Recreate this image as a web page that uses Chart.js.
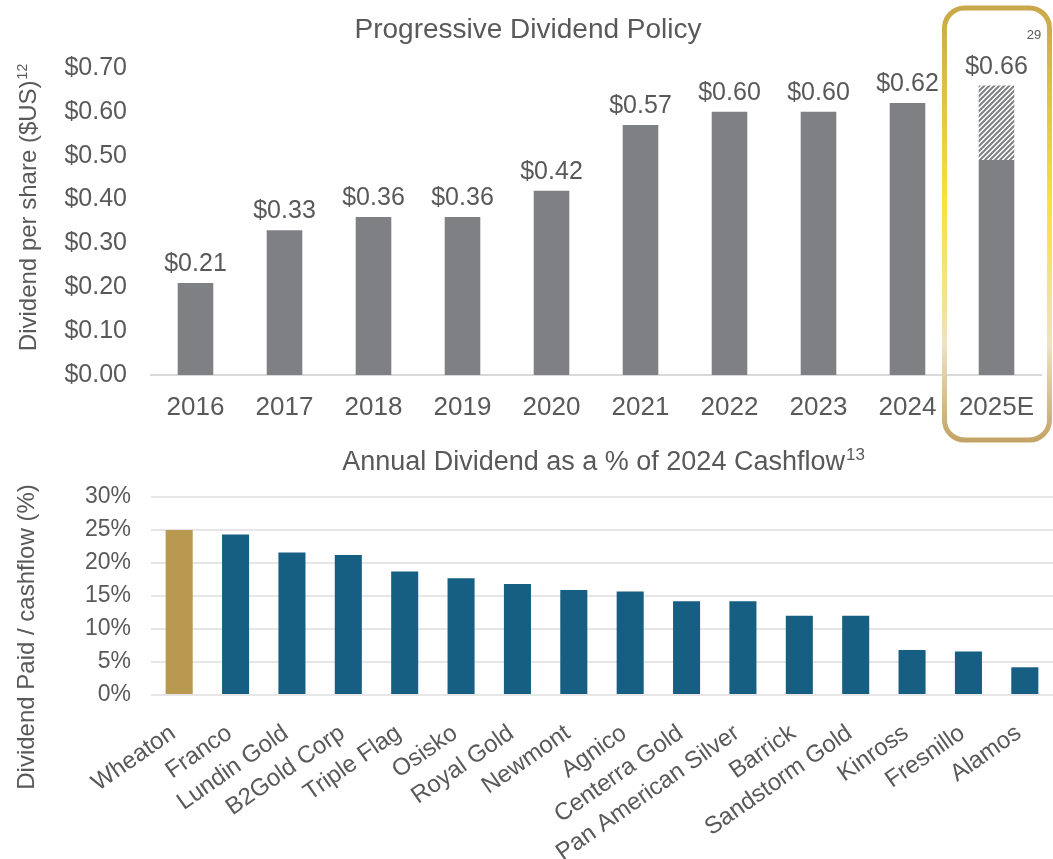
<!DOCTYPE html>
<html>
<head>
<meta charset="utf-8">
<script src="https://cdn.jsdelivr.net/npm/chart.js@4.4.1/dist/chart.umd.min.js"></script>
<style>
  body { margin: 0; background: #fff; width: 1053px; height: 859px; overflow: hidden; position: relative; }
  #top { position: absolute; left: 0; top: 0; width: 1053px; height: 450px; }
  #bottom { position: absolute; left: 0; top: 430px; width: 1053px; height: 429px; }
</style>
</head>
<body>
<div id="top"><canvas id="c1"></canvas></div>
<div id="bottom"><canvas id="c2"></canvas></div>
<script>
// top chart data
const years = ['2016', '2017', '2018', '2019', '2020', '2021', '2022', '2023', '2024', '2025E'];
const dividendPaid = [0.21, 0.33, 0.36, 0.36, 0.42, 0.57, 0.60, 0.60, 0.62, 0.49];
const dividendEstimate = [null, null, null, null, null, null, null, null, null, 0.17];

// bottom chart data
const companies = ['Wheaton', 'Franco', 'Lundin Gold', 'B2Gold Corp', 'Triple Flag', 'Osisko', 'Royal Gold',
  'Newmont', 'Agnico', 'Centerra Gold', 'Pan American Silver', 'Barrick', 'Sandstorm Gold', 'Kinross',
  'Fresnillo', 'Alamos'];
const payoutPct = [25.0, 24.3, 21.6, 21.2, 18.7, 17.7, 16.8, 15.9, 15.7, 14.2, 14.2, 12.0, 12.0, 6.8, 6.6, 4.2];

const FONT = '"Liberation Sans", Arial, sans-serif';
const TXT = '#595959';
const GREY = '#7f8083';
const BLUE = '#165f82';
const GOLD = '#b9984f';

Chart.defaults.font.family = FONT;
Chart.defaults.color = TXT;

function hatch(ctx) {
  const c = document.createElement('canvas');
  c.width = 5; c.height = 5;
  const g = c.getContext('2d');
  g.fillStyle = '#fff';
  g.fillRect(0, 0, 5, 5);
  g.strokeStyle = GREY;
  g.lineWidth = 2;
  g.beginPath();
  g.moveTo(-1, 6); g.lineTo(6, -1);
  g.moveTo(-1, 1); g.lineTo(1, -1);
  g.moveTo(4, 6); g.lineTo(6, 4);
  g.stroke();
  return ctx.createPattern(c, 'repeat');
}

// text with a small raised part, e.g. footnote numbers
function supText(ctx, main, sup, x, y, size, sizeSup, align) {
  ctx.font = size + 'px ' + FONT;
  const w1 = ctx.measureText(main).width;
  ctx.font = sizeSup + 'px ' + FONT;
  const w2 = ctx.measureText(sup).width;
  let start = x;
  if (align === 'center') start = x - (w1 + w2) / 2;
  ctx.textAlign = 'left';
  ctx.textBaseline = 'alphabetic';
  ctx.font = size + 'px ' + FONT;
  ctx.fillText(main, start, y);
  ctx.font = sizeSup + 'px ' + FONT;
  ctx.fillText(sup, start + w1 + 1, y - size * 0.38);
}

const topDecor = {
  id: 'topDecor',
  afterDatasetsDraw(chart) {
    const ctx = chart.ctx;
    const y = chart.scales.y;
    const meta = chart.getDatasetMeta(0);
    ctx.save();
    ctx.fillStyle = TXT;
    ctx.font = '25px ' + FONT;
    ctx.textAlign = 'center';
    ctx.textBaseline = 'alphabetic';
    meta.data.forEach((bar, i) => {
      const total = dividendPaid[i] + (dividendEstimate[i] || 0);
      ctx.fillText('$' + total.toFixed(2), bar.x, y.getPixelForValue(total) - 12);
    });
    ctx.restore();
  },
  afterDraw(chart) {
    const ctx = chart.ctx;
    const x = chart.scales.x;
    ctx.save();
    // titles
    ctx.fillStyle = TXT;
    ctx.font = '28px ' + FONT;
    ctx.textAlign = 'center';
    ctx.textBaseline = 'middle';
    ctx.fillText('Progressive Dividend Policy', 528, 30);
    ctx.translate(27, 208);
    ctx.rotate(-Math.PI / 2);
    supText(ctx, 'Dividend per share ($US)', '12', 0, 9, 24, 14, 'center');
    ctx.restore();

    // highlight frame around the estimate year
    const cx = x.getPixelForValue(years.length - 1);
    const left = cx - 52, right = cx + 53, top = 8, bottom = 440;
    const grad = ctx.createLinearGradient(0, top, 0, bottom);
    grad.addColorStop(0, '#c9a84b');
    grad.addColorStop(0.45, '#fbe13a');
    grad.addColorStop(0.78, '#efe2c2');
    grad.addColorStop(1, '#c4a466');
    ctx.save();
    ctx.strokeStyle = grad;
    ctx.lineWidth = 5;
    ctx.beginPath();
    ctx.roundRect(left, top, right - left, bottom - top, 20);
    ctx.stroke();
    ctx.fillStyle = TXT;
    ctx.font = '13px ' + FONT;
    ctx.textAlign = 'center';
    ctx.textBaseline = 'middle';
    ctx.fillText('29', 1034, 35);
    ctx.restore();
  }
};

const c1 = document.getElementById('c1').getContext('2d');
new Chart(c1, {
  type: 'bar',
  data: {
    labels: years,
    datasets: [
      { data: dividendPaid, backgroundColor: GREY, stack: 's' },
      { data: dividendEstimate, backgroundColor: hatch(c1), stack: 's' }
    ]
  },
  options: {
    responsive: true,
    maintainAspectRatio: false,
    animation: false,
    devicePixelRatio: 1,
    layout: { padding: { top: 68, right: 12, bottom: 5, left: 0 } },
    plugins: { legend: { display: false }, tooltip: { enabled: false }, title: { display: false } },
    datasets: { bar: { categoryPercentage: 1, barPercentage: 0.4 } },
    scales: {
      x: {
        stacked: true,
        grid: { display: false, drawTicks: false },
        border: { display: true, color: '#d9d9d9', width: 2 },
        ticks: { color: TXT, font: { size: 26 }, padding: 17 },
        afterFit(s) { s.height = 70; }
      },
      y: {
        stacked: true,
        min: 0, max: 0.7,
        grid: { display: false, drawTicks: false },
        border: { display: false },
        ticks: { stepSize: 0.1, color: TXT, font: { size: 25 }, padding: 24,
          callback: v => '$' + Number(v).toFixed(2) },
        afterFit(s) { s.width = 151; }
      }
    }
  },
  plugins: [topDecor]
});

const bottomDecor = {
  id: 'bottomDecor',
  afterDraw(chart) {
    const ctx = chart.ctx;
    ctx.save();
    ctx.fillStyle = TXT;
    supText(ctx, 'Annual Dividend as a % of 2024 Cashflow', '13', 603, 40, 27, 17, 'center');
    ctx.translate(27, 207);
    ctx.rotate(-Math.PI / 2);
    ctx.font = '24px ' + FONT;
    ctx.textAlign = 'center';
    ctx.textBaseline = 'middle';
    ctx.fillText('Dividend Paid / cashflow (%)', 0, 0);
    ctx.restore();
  }
};

new Chart(document.getElementById('c2'), {
  type: 'bar',
  data: {
    labels: companies,
    datasets: [{
      data: payoutPct,
      backgroundColor: companies.map((c, i) => i === 0 ? GOLD : BLUE)
    }]
  },
  options: {
    responsive: true,
    maintainAspectRatio: false,
    animation: false,
    devicePixelRatio: 1,
    layout: { padding: { top: 67, right: 0, bottom: 0, left: 0 } },
    plugins: { legend: { display: false }, tooltip: { enabled: false }, title: { display: false } },
    datasets: { bar: { categoryPercentage: 1, barPercentage: 0.48 } },
    scales: {
      x: {
        grid: { display: false, drawTicks: false },
        border: { display: false },
        ticks: { color: TXT, font: { size: 24 }, padding: 24, labelOffset: -6, autoSkip: false,
          minRotation: 35, maxRotation: 35 },
        afterFit(s) { s.height = 164; s.paddingLeft = 0; s.paddingRight = 0; }
      },
      y: {
        min: 0, max: 30,
        grid: { color: '#e6e6e6', lineWidth: 2, drawTicks: false },
        border: { display: false },
        ticks: { stepSize: 5, color: TXT, font: { size: 23 }, padding: 20, callback: v => v + '%' },
        afterFit(s) { s.width = 151; }
      }
    }
  },
  plugins: [bottomDecor]
});
</script>
</body>
</html>
